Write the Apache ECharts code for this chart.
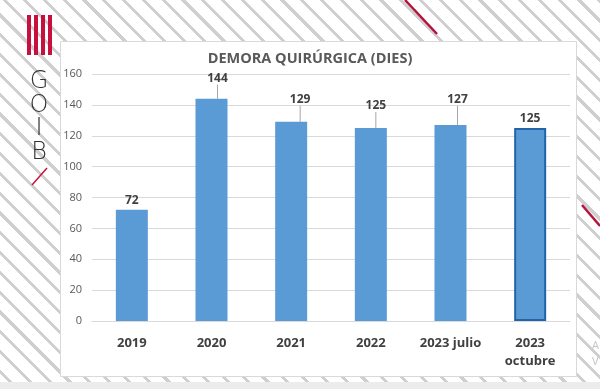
<!DOCTYPE html>
<html>
<head>
<meta charset="utf-8">
<script src="https://cdn.jsdelivr.net/npm/echarts@6/dist/echarts.min.js"></script>
<style>
html,body{margin:0;padding:0;}
#bg{position:absolute;left:0;top:0;width:600px;height:389px;
background:repeating-linear-gradient(45deg,#ffffff 0px,#ffffff 11px,#cfcfcf 11px,#cfcfcf 14px);}
#chart{position:absolute;left:0;top:0;width:600px;height:389px;}
</style>
</head>
<body>
<div id="bg"></div>
<div id="chart"></div>
<script>
const categories = ['2019', '2020', '2021', '2022', '2023 julio', '2023\noctubre'];
const values = [72, 144, 129, 125, 127, 125];
const yTicks = { min: 0, max: 160, interval: 20 };
const titleText = 'DEMORA QUIRÚRGICA (DIES)';
const logoLetters = ['G', 'O', 'I', 'B'];

const chart = echarts.init(document.getElementById('chart'), null, { renderer: 'canvas' });

const labelOffsets = [null, [6, -11], [9, -13], [5, -13], [7, -16], null];

const seriesData = values.map((v, i) => {
  const item = { value: v };
  if (i === values.length - 1) {
    item.itemStyle = { color: '#5B9BD5', borderColor: '#2264A8', borderWidth: 2 };
  }
  if (!labelOffsets[i]) item.labelLine = { show: false };
  return item;
});

const logoGraphics = [];
// shield stripes
for (let k = 0; k < 4; k++) {
  logoGraphics.push({
    type: 'rect', z: 1,
    shape: { x: 27 + k * 7, y: 15, width: 4, height: 40 },
    style: { fill: '#C8103E' }
  });
}
logoLetters.forEach((ch, i) => {
  logoGraphics.push({
    type: 'text', z: 1,
    style: {
      text: ch, x: 39, y: [82, 106, 129, 153][i],
      align: 'center', verticalAlign: 'middle',
      font: '300 24px "DejaVu Sans", sans-serif', fill: '#333333'
    }
  });
});
logoGraphics.push({ type: 'line', z: 1, shape: { x1: 32, y1: 185, x2: 47, y2: 168 }, style: { stroke: '#C8103E', lineWidth: 1.5 } });
logoGraphics.push({ type: 'line', z: 1, shape: { x1: 405, y1: 0, x2: 437, y2: 34 }, style: { stroke: '#B5123E', lineWidth: 2.5 } });
logoGraphics.push({ type: 'line', z: 1, shape: { x1: 582, y1: 205, x2: 600, y2: 226 }, style: { stroke: '#B5123E', lineWidth: 2.5 } });

chart.setOption({
  backgroundColor: 'transparent',
  animation: false,
  graphic: [
    { type: 'rect', z: 0, shape: { x: 60.5, y: 41.5, width: 516, height: 335 }, style: { fill: '#ffffff', stroke: '#d9d9d9', lineWidth: 1 } },
    { type: 'rect', z: 0, shape: { x: 0, y: 382, width: 600, height: 7 }, style: { fill: '#ececec' } },
    { type: 'text', z: 0, style: { text: 'A\nV', x: 592, y: 338, font: '11px "Open Sans", sans-serif', fill: '#c4c4c4', lineHeight: 16 } },
    ...logoGraphics
  ],
  title: {
    text: titleText,
    left: 305, top: 46, textAlign: 'center',
    textStyle: { fontFamily: '"Open Sans", sans-serif', fontWeight: 'bold', fontSize: 14.5, color: '#595959' }
  },
  grid: { left: 92, right: 30, top: 74, bottom: 68, containLabel: false },
  xAxis: {
    type: 'category',
    data: categories,
    axisLine: { lineStyle: { color: '#d9d9d9' } },
    axisTick: { show: false },
    axisLabel: {
      margin: 13, interval: 0,
      fontFamily: '"Open Sans", sans-serif', fontWeight: 'bold', fontSize: 13, color: '#404040', lineHeight: 18
    }
  },
  yAxis: {
    type: 'value',
    min: yTicks.min, max: yTicks.max, interval: yTicks.interval,
    axisLine: { show: false },
    axisTick: { show: false },
    splitLine: { lineStyle: { color: '#d9d9d9' } },
    axisLabel: { margin: 10, fontFamily: '"Open Sans", sans-serif', fontSize: 11, color: '#595959' }
  },
  series: [{
    type: 'bar',
    data: seriesData,
    barWidth: 32,
    itemStyle: { color: '#5B9BD5' },
    label: {
      show: true, position: 'top', distance: 3,
      fontFamily: '"Open Sans", sans-serif', fontWeight: 'bold', fontSize: 12, color: '#404040'
    },
    labelLine: { show: true, lineStyle: { color: '#a6a6a6', width: 1 } },
    labelLayout: function (p) {
      const o = labelOffsets[p.dataIndex];
      return o ? { dx: o[0], dy: o[1] } : {};
    }
  }]
});
</script>
</body>
</html>
